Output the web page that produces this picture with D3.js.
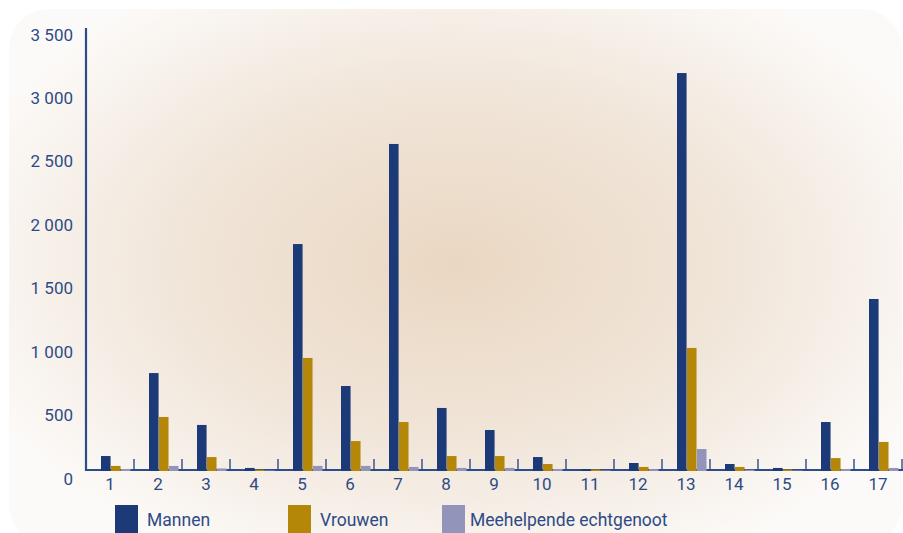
<!DOCTYPE html>
<html><head><meta charset="utf-8">
<script src="https://cdn.jsdelivr.net/npm/d3@7"></script>
<style>html,body{margin:0;padding:0;background:#fff;}svg{display:block;font-family:Roboto,"Open Sans",sans-serif;}</style>
</head><body><svg id="c" width="903" height="533"></svg>
<script>
const categories = ["1","2","3","4","5","6","7","8","9","10","11","12","13","14","15","16","17"];
const seriesNames = ["Mannen","Vrouwen","Meehelpende echtgenoot"];
const mannen  = [118, 772, 363, 24, 1789, 670, 2578, 497, 323, 110, 15, 63, 3137, 55, 24, 386, 1356];
const vrouwen = [40, 426, 110, 10, 891, 236, 386, 118, 118, 55, 12, 32, 970, 32, 12, 102, 229];
const meehelpend = [16, 40, 20, 4, 40, 40, 32, 24, 24, 16, 5, 15, 173, 10, 4, 16, 24];
const yTicks = [0, 500, 1000, 1500, 2000, 2500, 3000, 3500];
const colors = ["#1b3a77", "#b58709", "#9294b9"];
const seriesData = [mannen, vrouwen, meehelpend];

const svg = d3.select("#c");
const defs = svg.append("defs");
const grad = defs.append("radialGradient").attr("id","bg")
  .attr("gradientUnits","userSpaceOnUse")
  .attr("cx",0).attr("cy",0).attr("r",1)
  .attr("gradientTransform","translate(455,265) scale(520,330)");
grad.append("stop").attr("offset","0").attr("stop-color","#ead7c2");
grad.append("stop").attr("offset","0.55").attr("stop-color","#f1e6da");
grad.append("stop").attr("offset","1").attr("stop-color","#fcfaf8");

const x0 = 86, x1 = 902, yTop = 27, yZero = 471;
const x = d3.scaleBand().domain(categories).range([x0, x1]).paddingInner(0).paddingOuter(0);
const xs = d3.scaleBand().domain(d3.range(3)).range([15, 44.5]).paddingInner(0.04);
const y = d3.scaleLinear().domain([0, 3500]).range([yZero, yTop]);

const axisColor = "#2c4c8a";
const textColor = "#2e4a86";

// background panel
svg.append("rect").attr("x",9).attr("y",9).attr("width",893).attr("height",536)
  .attr("rx",40).attr("fill","url(#bg)");

// baseline
svg.append("line").attr("x1",x0).attr("x2",x1+1).attr("y1",yZero-1).attr("y2",yZero-1)
  .attr("stroke",axisColor).attr("stroke-width",2.2);

// ticks between categories
const bounds = categories.slice(1).map(c => x(c)).concat([x1]);
svg.selectAll("line.tk").data(bounds).enter().append("line")
  .attr("class","tk")
  .attr("x1", d => d).attr("x2", d => d)
  .attr("y1", yZero - 12).attr("y2", yZero)
  .attr("stroke", axisColor).attr("stroke-width", 1.4);

// bars
categories.forEach((c, i) => {
  seriesData.forEach((s, k) => {
    const v = s[i];
    svg.append("rect")
      .attr("x", x(c) + xs(k))
      .attr("y", y(v))
      .attr("width", xs.bandwidth())
      .attr("height", yZero - y(v))
      .attr("fill", colors[k]);
  });
});

// y axis line
svg.append("line").attr("x1",x0).attr("x2",x0).attr("y1",y(3500)+1).attr("y2",yZero)
  .attr("stroke",axisColor).attr("stroke-width",2.2);

// y labels
svg.selectAll("text.yl").data(yTicks).enter().append("text")
  .attr("class","yl")
  .attr("x", 73).attr("y", d => y(d) + 13.5)
  .attr("text-anchor","end")
  .attr("font-size", 17).attr("fill", textColor)
  .text(d => d3.format(",")(d).replace(/,/g, " "));

// x labels
svg.selectAll("text.xl").data(categories).enter().append("text")
  .attr("class","xl")
  .attr("x", d => x(d) + x.bandwidth()/2)
  .attr("y", 490)
  .attr("text-anchor","middle")
  .attr("font-size", 17).attr("fill", textColor)
  .text(d => d);

// legend
const legendX = [115, 288, 442];
const lg = svg.selectAll("g.lg").data(seriesNames).enter().append("g").attr("class","lg")
  .attr("transform", (d,i) => `translate(${legendX[i]},505)`);
lg.append("rect").attr("width",23).attr("height",28).attr("fill",(d,i)=>colors[i]);
lg.append("text").attr("x", (d,i)=> i===2 ? 28 : 32).attr("y", 21)
  .attr("font-size", 17.5).attr("fill", textColor).text(d => d);
</script></body></html>
